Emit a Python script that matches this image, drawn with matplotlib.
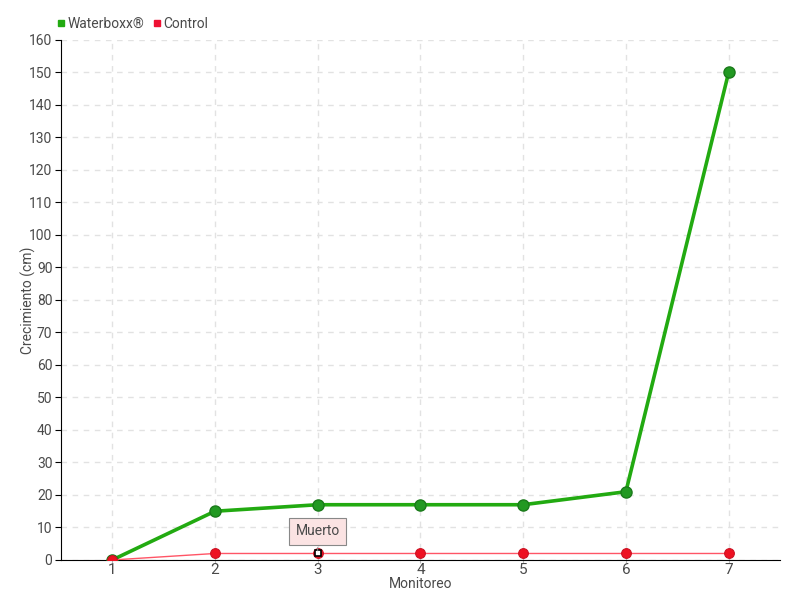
import matplotlib.pyplot as plt
from matplotlib.lines import Line2D

plt.rcParams['font.family'] = ['Roboto', 'DejaVu Sans']

monitoreo = [1, 2, 3, 4, 5, 6, 7]
waterboxx = [0, 15, 17, 17, 17, 21, 150]
control = [0, 2, 2, 2, 2, 2, 2]
nota_x, nota_y, nota_txt = 3, 2, 'Muerto'

txt = '#4a4a4a'
fig = plt.figure(figsize=(8, 6), dpi=100)
ax = fig.add_axes([0.076, 0.0667, 0.899, 0.8667])

ax.plot(monitoreo, waterboxx, color='#22aa11', lw=2.6, marker='o', ms=8,
        mfc='#229922', mec='#1a7a1a', mew=1, zorder=3)
ax.plot(monitoreo, control, color='#ff5566', lw=1, marker='o', ms=7,
        mfc='#ee1122', mec='#cc1122', mew=0.8, zorder=4)
ax.plot([nota_x], [nota_y], marker='s', ms=5, mfc='white', mec='black', mew=1.2, zorder=5)
ax.annotate(nota_txt, xy=(nota_x, nota_y), xytext=(0, 16), textcoords='offset points',
            ha='center', va='center', fontsize=10, color=txt,
            bbox=dict(boxstyle='square,pad=0.45', fc='#fbe3e3', ec='#888888', lw=0.8),
            arrowprops=dict(arrowstyle='-', color='#888888', lw=0.8), zorder=6)

ax.set_xlim(0.5, 7.5)
ax.set_ylim(0, 160)
ax.set_xticks(monitoreo)
ax.set_yticks(range(0, 161, 10))
ax.grid(True, color='#e2e2e2', ls=(0, (4, 4)), lw=1)
ax.set_axisbelow(True)
for s in ['top', 'right']:
    ax.spines[s].set_visible(False)
for s in ['left', 'bottom']:
    ax.spines[s].set_color('black')
ax.tick_params(axis='y', length=4, colors='black', labelcolor=txt, labelsize=10, pad=2)
ax.tick_params(axis='x', length=4, direction='inout', colors='#bbbbbb', labelcolor=txt,
               labelsize=11, pad=0)
ax.set_xlabel('Monitoreo', fontsize=10, color=txt, labelpad=0)
ax.set_ylabel('Crecimiento (cm)', fontsize=10, color=txt)
ax.yaxis.set_label_coords(-0.034, 0.5)

handles = [Line2D([], [], ls='', marker='s', ms=4.5, color='#22aa11'),
           Line2D([], [], ls='', marker='s', ms=4.5, color='#ee1133')]
fig.legend(handles, ['Waterboxx®', 'Control'], loc='upper left', bbox_to_anchor=(0.053, 0.993),
           ncol=2, frameon=False, handletextpad=0.0, columnspacing=0.5,
           handlelength=0.9, labelcolor=txt, prop=dict(size=10))

fig.savefig('out.png', dpi=100)
